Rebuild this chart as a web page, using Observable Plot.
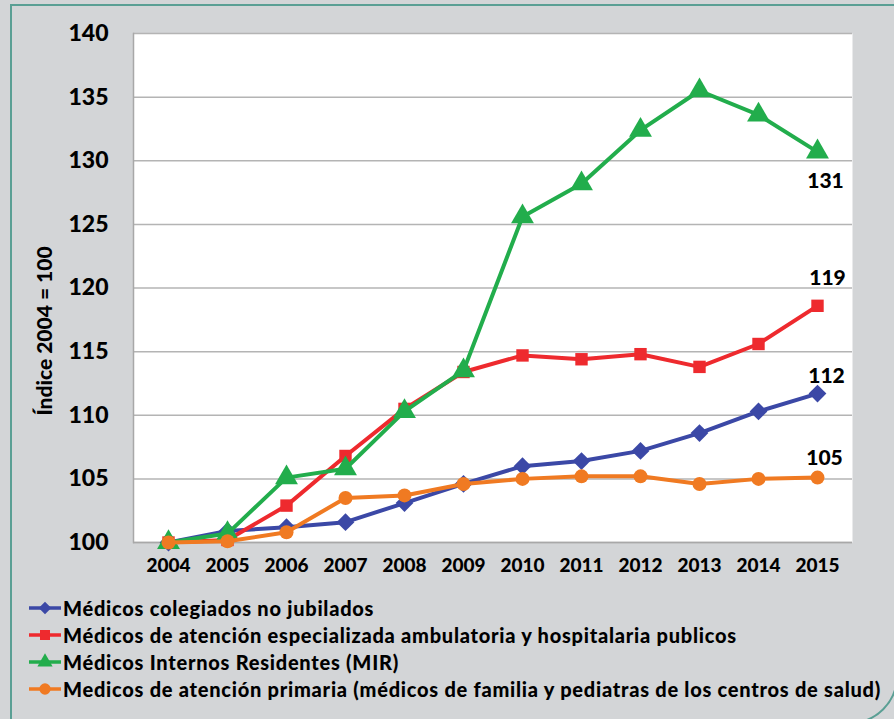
<!DOCTYPE html>
<html><head><meta charset="utf-8">
<script src="https://cdn.jsdelivr.net/npm/d3@7"></script>
<script src="https://cdn.jsdelivr.net/npm/@observablehq/plot@0.6"></script>
<style>
html,body{margin:0;padding:0;}
body{width:894px;height:719px;background:#d3d5d7;position:relative;overflow:hidden;font-family:Lato,"Open Sans",sans-serif;}
#frame{position:absolute;left:10px;top:4px;border:2px solid #5a9f94;border-bottom-right-radius:48px;box-sizing:border-box;width:888px;height:720px;}
#chart{position:absolute;left:0;top:0;}
#ytitle{position:absolute;left:43px;top:331px;transform:translate(-50%,-50%) rotate(-90deg);font-weight:900;font-size:21px;white-space:nowrap;color:#000;font-family:Lato,sans-serif;}
#legend{position:absolute;left:28px;top:594px;}
.row{display:flex;align-items:center;height:27px;font-family:Lato,sans-serif;font-weight:900;font-size:20px;color:#000;white-space:nowrap;}
.row svg{margin-right:1px;flex:none;}
</style>
</head><body>
<div id="frame"></div>
<div id="chart"></div>
<div id="ytitle">Índice 2004 = 100</div>
<div id="legend"></div>
<script>
const years = [2004,2005,2006,2007,2008,2009,2010,2011,2012,2013,2014,2015];
const colegiados   = [100,100.9,101.2,101.6,103.1,104.6,106.0,106.4,107.2,108.6,110.3,111.7];
const especializada= [100,100.2,102.9,106.8,110.5,113.4,114.7,114.4,114.8,113.8,115.6,118.6];
const mir          = [100,100.7,105.1,105.8,110.3,113.5,125.6,128.2,132.4,135.5,133.6,130.7];
const primaria     = [100,100.1,100.8,103.5,103.7,104.6,105.0,105.2,105.2,104.6,105.0,105.1];
const seriesNames = [
  "Médicos colegiados no jubilados",
  "Médicos de atención especializada ambulatoria y hospitalaria publicos",
  "Médicos Internos Residentes (MIR)",
  "Medicos de atención primaria (médicos de familia y pediatras de los centros de salud)"
];
const endLabels = ["112","119","131","105"];
const yTicks = [100,105,110,115,120,125,130,135,140];

const seriesValues = [colegiados, especializada, mir, primaria];
const colors = ["#3b48a6","#ee2a2e","#22ad4c","#f07a22"];
const symbols = ["diamond2","square","triangle","circle"];
const radii = [8,7,8.5,7];
const labelDy = [-17,-28,29,-19];
const labelDx = [9,10,8,7];

const rows = seriesValues.map((vals,i)=>years.map((y,j)=>({year:y, value:vals[j], s:i})));

const marks = [
  Plot.frame({fill:"white", stroke:null}),
  Plot.gridY(yTicks, {stroke:"#b4b4b4", strokeOpacity:1, strokeWidth:1.5}),
  Plot.frame({anchor:"left", stroke:"#a8a8a8", strokeWidth:1.5}),
  Plot.ruleY([100], {stroke:"#a8a8a8", strokeWidth:1.5}),
  Plot.axisY(yTicks, {tickSize:0, tickPadding:25, fontSize:23, fontWeight:900, label:null, fill:"#000"}),
  Plot.axisX(years, {tickSize:0, tickPadding:16, fontSize:19, fontWeight:900, label:null, tickFormat:d=>String(d), fill:"#000"})
];
rows.forEach((r,i)=>{
  marks.push(Plot.line(r, {x:"year", y:"value", stroke:colors[i], strokeWidth:4}));
  marks.push(Plot.dot(r, {x:"year", y:"value", symbol:symbols[i], fill:colors[i], r:radii[i], stroke:null}));
});
rows.forEach((r,i)=>{
  marks.push(Plot.text([r[r.length-1]], {x:"year", y:"value", text:()=>endLabels[i], dx:labelDx[i], dy:labelDy[i], fontSize:21, fontWeight:900, fill:"#000"}));
});

const svg = Plot.plot({
  width:894, height:590,
  marginLeft:133, marginRight:42, marginTop:33, marginBottom:48,
  style:{background:"transparent", fontFamily:"Lato, 'Open Sans', sans-serif", color:"#000"},
  x:{type:"point", domain:years, padding:0.5},
  y:{domain:[100,140]},
  marks
});
document.getElementById("chart").appendChild(svg);

const legend = document.getElementById("legend");
const spans = [];
seriesNames.forEach((name,i)=>{
  const row = document.createElement("div");
  row.className = "row";
  const s = d3.create("svg").attr("width",34).attr("height",22);
  s.append("line").attr("x1",1).attr("x2",33).attr("y1",11).attr("y2",11).attr("stroke",colors[i]).attr("stroke-width",3.5);
  s.append("path").attr("transform","translate(17,11)").attr("d", d3.symbol([d3.symbolDiamond2,d3.symbolSquare,d3.symbolTriangle,d3.symbolCircle][i], 100)()).attr("fill",colors[i]);
  row.appendChild(s.node());
  const t = document.createElement("span");
  t.textContent = name;
  row.appendChild(t);
  legend.appendChild(row);
  spans.push(t);
});
// fit the longest legend line to the reference width
const longest = spans[3];
const w = longest.getBoundingClientRect().width;
const target = 818;
const ls = (target - w) / seriesNames[3].length;
spans.forEach(sp => sp.style.letterSpacing = ls + "px");
</script>
</body></html>
